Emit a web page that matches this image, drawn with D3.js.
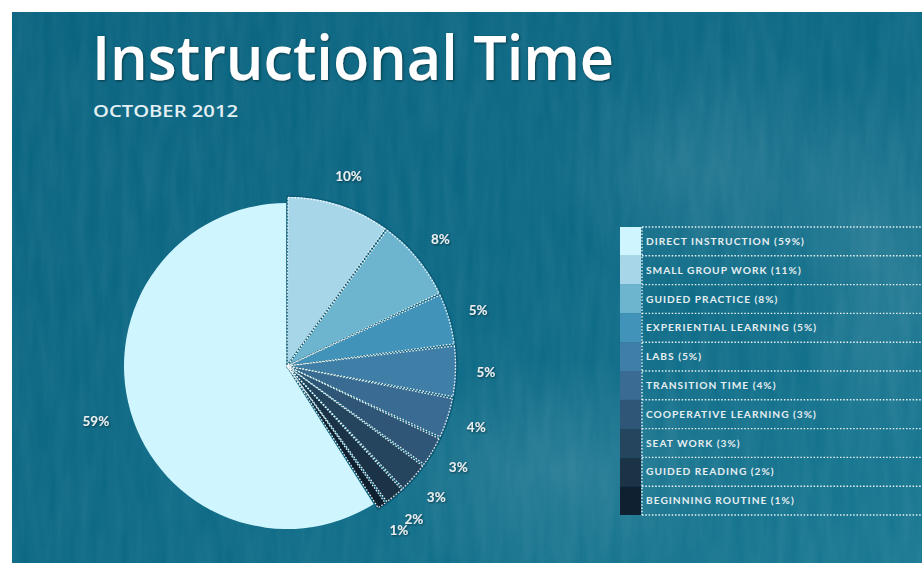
<!DOCTYPE html>
<html>
<head>
<meta charset="utf-8">
<script src="https://cdn.jsdelivr.net/npm/d3@7"></script>
<style>
  html, body { margin: 0; padding: 0; background: #ffffff; }
  svg { display: block; }
</style>
</head>
<body>
<div id="chart"></div>
<script>
// ---- data ----
const title = "Instructional Time";
const subtitle = "OCTOBER 2012";
const categories = [
  "DIRECT INSTRUCTION", "SMALL GROUP WORK", "GUIDED PRACTICE", "EXPERIENTIAL LEARNING",
  "LABS", "TRANSITION TIME", "COOPERATIVE LEARNING", "SEAT WORK", "GUIDED READING", "BEGINNING ROUTINE"
];
const legendPercents = [59, 11, 8, 5, 5, 4, 3, 3, 2, 1];
const pieValues = [59, 10, 8, 5, 5, 4, 3, 3, 2, 1];
const palette = [
  "#cff6fe", "#a7d6e9", "#6db4cf", "#4193ba", "#3f7ea6",
  "#3a6b92", "#2f5676", "#25445d", "#1a3346", "#0f2131"
];

// ---- layout ----
const W = 922, H = 563;
const svg = d3.select("#chart").append("svg").attr("width", W).attr("height", H);
const defs = svg.append("defs");

const bgGrad = defs.append("linearGradient").attr("id", "bg").attr("x1", 0).attr("y1", 0).attr("x2", 1).attr("y2", 1);
bgGrad.append("stop").attr("offset", "0%").attr("stop-color", "#0a6480");
bgGrad.append("stop").attr("offset", "55%").attr("stop-color", "#0d6a86");
bgGrad.append("stop").attr("offset", "100%").attr("stop-color", "#1a7993");

const blob = defs.append("radialGradient").attr("id", "blob");
blob.append("stop").attr("offset", "0%").attr("stop-color", "#ffffff").attr("stop-opacity", 0.10);
blob.append("stop").attr("offset", "100%").attr("stop-color", "#ffffff").attr("stop-opacity", 0);

const noise = defs.append("filter").attr("id", "noise").attr("x", 0).attr("y", 0).attr("width", "100%").attr("height", "100%");
noise.append("feTurbulence").attr("type", "fractalNoise").attr("baseFrequency", "0.09 0.015").attr("numOctaves", 3).attr("seed", 4);
noise.append("feColorMatrix").attr("type", "matrix")
  .attr("values", "0 0 0 0 1  0 0 0 0 1  0 0 0 0 1  0 0 0 0.09 -0.02");

const shadow = defs.append("filter").attr("id", "shadow").attr("x", "-20%").attr("y", "-20%").attr("width", "140%").attr("height", "140%");
shadow.append("feDropShadow").attr("dx", 1).attr("dy", 1).attr("stdDeviation", 0.8).attr("flood-color", "#00202c").attr("flood-opacity", 0.7);

// background panel
const panel = { x: 12, y: 12 };
svg.append("rect").attr("x", panel.x).attr("y", panel.y).attr("width", W - panel.x).attr("height", H - panel.y).attr("fill", "url(#bg)");
svg.append("ellipse").attr("cx", 720).attr("cy", 170).attr("rx", 170).attr("ry", 130).attr("fill", "url(#blob)");
svg.append("ellipse").attr("cx", 880).attr("cy", 260).attr("rx", 90).attr("ry", 200).attr("fill", "url(#blob)");
svg.append("ellipse").attr("cx", 560).attr("cy", 470).attr("rx", 200).attr("ry", 110).attr("fill", "url(#blob)");
svg.append("rect").attr("x", panel.x).attr("y", panel.y).attr("width", W - panel.x).attr("height", H - panel.y).attr("filter", "url(#noise)");

// title
svg.append("text")
  .attr("x", 92).attr("y", 80)
  .attr("textLength", 522).attr("lengthAdjust", "spacingAndGlyphs")
  .attr("font-family", "'Open Sans', sans-serif").attr("font-weight", 600)
  .attr("font-size", 61).attr("fill", "#ffffff").attr("filter", "url(#shadow)")
  .text(title);
svg.append("text")
  .attr("x", 93).attr("y", 117)
  .attr("textLength", 145).attr("lengthAdjust", "spacingAndGlyphs")
  .attr("font-family", "'Open Sans', sans-serif").attr("font-weight", 600)
  .attr("font-size", 16.5).attr("fill", "#e4f0f4")
  .text(subtitle);

// ---- pie ----
const cx = 287, cy = 366, rBig = 163, rSmall = 170, rLabel = 199;
const total = d3.sum(pieValues);
const start = -2 * Math.PI * pieValues[0] / total;
const pie = d3.pie().sort(null).value(d => d.v).startAngle(start).endAngle(start + 2 * Math.PI);
const data = pieValues.map((v, i) => ({ v, i }));
const arcs = pie(data);

const g = svg.append("g").attr("transform", `translate(${cx},${cy})`);
const arcBig = d3.arc().innerRadius(0).outerRadius(rBig);
const arcSmall = d3.arc().innerRadius(0).outerRadius(rSmall);
const arcDots = d3.arc().innerRadius(0).outerRadius(rSmall - 1.5).padAngle(0.012).padRadius(rSmall);

g.selectAll("path.slice").data(arcs).join("path")
  .attr("class", "slice")
  .attr("d", d => d.data.i === 0 ? arcBig(d) : arcSmall(d))
  .attr("fill", d => palette[d.data.i])
  .attr("stroke", d => d.data.i === 0 ? "none" : "#0c5d78")
  .attr("stroke-width", 1.6);

g.selectAll("path.dots").data(arcs.filter(d => d.data.i !== 0)).join("path")
  .attr("class", "dots")
  .attr("d", arcDots)
  .attr("fill", "none")
  .attr("stroke", "#ffffff").attr("stroke-opacity", 0.9)
  .attr("stroke-width", 1.3).attr("stroke-dasharray", "1.6,1.6");

const labelArc = d3.arc().innerRadius(rLabel).outerRadius(rLabel);
g.selectAll("text.pct").data(arcs).join("text")
  .attr("class", "pct")
  .attr("transform", d => `translate(${labelArc.centroid(d)})`)
  .attr("text-anchor", "middle").attr("dy", "0.35em")
  .attr("font-family", "Lato, sans-serif").attr("font-weight", 700)
  .attr("font-size", 13.5).attr("fill", "#e9eef0").attr("filter", "url(#shadow)")
  .text(d => d.data.v + "%");

// ---- legend ----
const lx = 620, ly = 227, rowH = 28.8, swW = 21, lineEnd = W;
const y = d3.scaleBand().domain(d3.range(categories.length)).range([ly, ly + rowH * categories.length]).padding(0);
const legend = svg.append("g");
legend.selectAll("rect").data(categories).join("rect")
  .attr("x", lx).attr("y", (d, i) => y(i)).attr("width", swW).attr("height", y.bandwidth())
  .attr("fill", (d, i) => palette[i]);
const sepYs = d3.range(categories.length + 1).map(i => ly + i * y.bandwidth());
legend.selectAll("line.sep").data(sepYs).join("line")
  .attr("class", "sep")
  .attr("x1", lx + swW + 1).attr("x2", lineEnd).attr("y1", d => d).attr("y2", d => d)
  .attr("stroke", "#ffffff").attr("stroke-opacity", 0.9).attr("stroke-width", 1.4).attr("stroke-dasharray", "1.5,1.8");
legend.append("line")
  .attr("x1", lx + swW + 1).attr("x2", lx + swW + 1).attr("y1", ly).attr("y2", sepYs[sepYs.length - 1])
  .attr("stroke", "#ffffff").attr("stroke-opacity", 0.9).attr("stroke-width", 1.4).attr("stroke-dasharray", "1.5,1.8");
legend.selectAll("text").data(categories).join("text")
  .attr("x", lx + swW + 5).attr("y", (d, i) => y(i) + y.bandwidth() / 2).attr("dy", "0.36em")
  .attr("font-family", "Lato, sans-serif").attr("font-weight", 700)
  .attr("font-size", 10.2).attr("letter-spacing", 1.0).attr("fill", "#e6eef1")
  .text((d, i) => `${d} (${legendPercents[i]}%)`);
</script>
</body>
</html>
